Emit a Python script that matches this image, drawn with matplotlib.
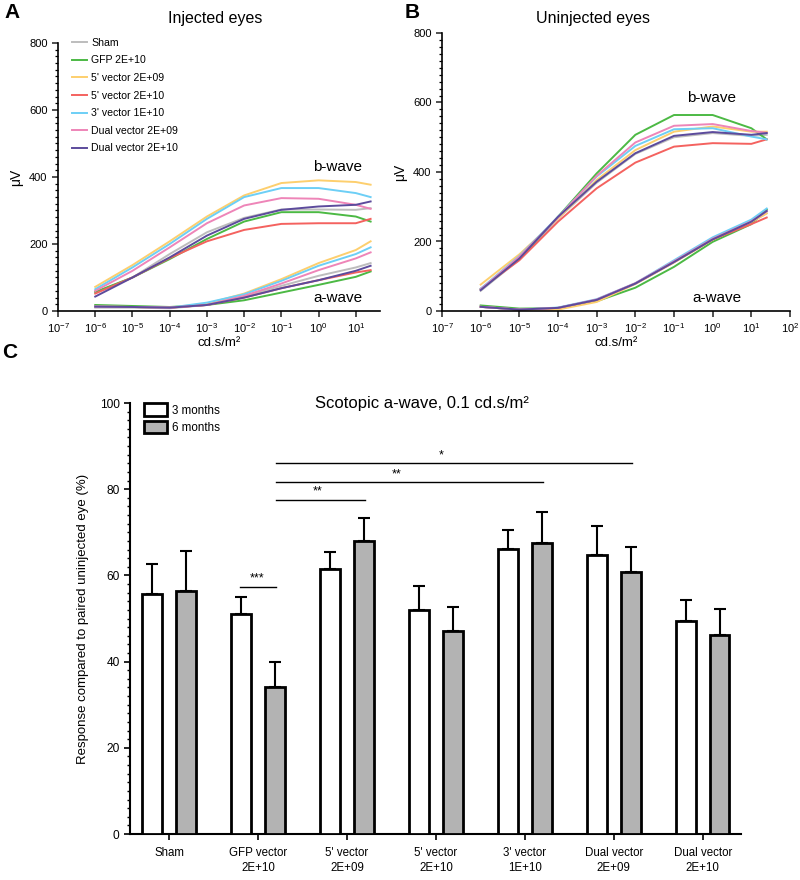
import numpy as np
import matplotlib
matplotlib.use("Agg")
import matplotlib.pyplot as plt
from matplotlib.ticker import MultipleLocator, FixedLocator
from matplotlib.patches import Patch

plt.rcParams['font.family'] = ['Liberation Sans', 'DejaVu Sans']
plt.rcParams['mathtext.default'] = 'regular'

# ── ERG intensity series (cd.s/m2) ─────────────────────────────────────────────
flash = [1e-6, 1e-5, 1e-4, 1e-3, 1e-2, 1e-1, 1e0, 1e1, 25]

groups = ["Sham", "GFP 2E+10", "5' vector 2E+09", "5' vector 2E+10",
          "3' vector 1E+10", "Dual vector 2E+09", "Dual vector 2E+10"]
colors = ['#bdbdbd', '#4cb944', '#fdcf6e', '#f4625f', '#6dcff6', '#ee85b8', '#5c4b9c']

# injected eyes, b-wave
inj_b_sham = [55, 100, 170, 235, 278, 303, 303, 302, 307]
inj_b_gfp = [57, 100, 155, 215, 267, 295, 295, 282, 267]
inj_b_5v09 = [72, 137, 208, 282, 345, 382, 390, 385, 377]
inj_b_5v10 = [52, 100, 158, 208, 242, 260, 262, 262, 275]
inj_b_3v10 = [65, 130, 200, 275, 340, 367, 367, 352, 340]
inj_b_dv09 = [60, 120, 190, 262, 315, 337, 335, 317, 305]
inj_b_dv10 = [43, 100, 160, 225, 275, 302, 312, 317, 327]

# injected eyes, a-wave
inj_a_sham = [10, 10, 8, 18, 45, 75, 105, 130, 143]
inj_a_gfp = [18, 15, 12, 18, 32, 55, 78, 102, 118]
inj_a_5v09 = [13, 12, 10, 22, 52, 95, 143, 182, 208]
inj_a_5v10 = [13, 12, 10, 18, 40, 68, 92, 115, 122]
inj_a_3v10 = [13, 12, 10, 25, 50, 90, 135, 170, 190]
inj_a_dv09 = [13, 12, 10, 18, 45, 82, 122, 157, 175]
inj_a_dv10 = [13, 12, 10, 18, 40, 68, 92, 120, 135]

# uninjected eyes, b-wave
uni_b_sham = [58, 148, 266, 369, 452, 500, 512, 504, 507]
uni_b_gfp = [62, 151, 271, 396, 507, 564, 564, 526, 494]
uni_b_5v09 = [76, 163, 266, 377, 463, 516, 531, 516, 516]
uni_b_5v10 = [64, 146, 257, 353, 427, 473, 483, 481, 494]
uni_b_3v10 = [64, 158, 271, 387, 475, 523, 526, 502, 494]
uni_b_dv09 = [62, 156, 269, 389, 485, 533, 538, 518, 513]
uni_b_dv10 = [60, 151, 271, 372, 454, 504, 515, 507, 512]

# uninjected eyes, a-wave
uni_a_sham = [12, 4, 9, 32, 78, 140, 205, 256, 281]
uni_a_gfp = [16, 7, 8, 28, 67, 127, 199, 250, 292]
uni_a_5v09 = [12, 4, 4, 26, 78, 140, 205, 256, 281]
uni_a_5v10 = [12, 4, 9, 32, 79, 141, 206, 250, 269]
uni_a_3v10 = [12, 4, 10, 34, 80, 146, 212, 263, 295]
uni_a_dv09 = [12, 4, 9, 33, 80, 143, 208, 258, 287]
uni_a_dv10 = [12, 4, 9, 32, 79, 141, 206, 257, 288]

inj_b = [inj_b_sham, inj_b_gfp, inj_b_5v09, inj_b_5v10, inj_b_3v10, inj_b_dv09, inj_b_dv10]
inj_a = [inj_a_sham, inj_a_gfp, inj_a_5v09, inj_a_5v10, inj_a_3v10, inj_a_dv09, inj_a_dv10]
uni_b = [uni_b_sham, uni_b_gfp, uni_b_5v09, uni_b_5v10, uni_b_3v10, uni_b_dv09, uni_b_dv10]
uni_a = [uni_a_sham, uni_a_gfp, uni_a_5v09, uni_a_5v10, uni_a_3v10, uni_a_dv09, uni_a_dv10]

# ── Panel C: scotopic a-wave ratio ────────────────────────────────────────────
bar_labels = ["Sham", "GFP vector\n2E+10", "5' vector\n2E+09", "5' vector\n2E+10",
              "3' vector\n1E+10", "Dual vector\n2E+09", "Dual vector\n2E+10"]
m3_mean = [55.8, 51.0, 61.5, 52.0, 66.2, 64.7, 49.5]
m3_err = [6.8, 4.1, 4.0, 5.5, 4.3, 6.8, 4.9]
m6_mean = [56.4, 34.2, 68.0, 47.0, 67.6, 60.7, 46.2]
m6_err = [9.3, 5.8, 5.4, 5.6, 7.0, 5.9, 5.9]

# (from, to, y, label, label x)
sig = [(0.8, 1.2, 57.4, '***', 0.99),
       (1.2, 2.2, 77.6, '**', 1.67),
       (1.2, 4.2, 81.6, '**', 2.56),
       (1.2, 5.2, 86.1, '*', 3.06)]

fig = plt.figure(figsize=(8, 8.8), dpi=100)


def px_axes(left, top, right, bottom):
    return fig.add_axes([left / 800, 1 - bottom / 880, (right - left) / 800, (bottom - top) / 880])


def style_curve_ax(ax, xmax, decades):
    ax.set_xscale('log')
    ax.set_xlim(1e-7, xmax)
    ax.set_ylim(0, 800)
    for s in ['top', 'right']:
        ax.spines[s].set_visible(False)
    for s in ['left', 'bottom']:
        ax.spines[s].set_linewidth(1.2)
    ax.xaxis.set_major_locator(FixedLocator([10.0 ** d for d in decades]))
    ax.xaxis.set_minor_locator(FixedLocator([]))
    ax.set_xticklabels([r'$10^{%d}$' % d for d in decades])
    ax.yaxis.set_major_locator(MultipleLocator(200))
    ax.yaxis.set_minor_locator(MultipleLocator(20))
    ax.tick_params(axis='both', which='major', labelsize=8, length=4, width=1.2, color='#333333')
    ax.tick_params(axis='y', which='minor', length=2, width=0.9)
    ax.set_xlabel('cd.s/m²', fontsize=9.5, labelpad=1)
    ax.set_ylabel('μV', fontsize=10, labelpad=4)


# ── Panel A ──
axA = px_axes(58, 43, 380, 311)
for b, a, c, name in zip(inj_b, inj_a, colors, groups):
    axA.plot(flash, b, color=c, lw=1.4, label=name)
    axA.plot(flash, a, color=c, lw=1.4)
style_curve_ax(axA, 10 ** 1.65, range(-7, 2))
axA.legend(loc='upper left', bbox_to_anchor=(0.03, 1.035), frameon=False, fontsize=7.6,
           handlelength=1.4, handletextpad=0.45, labelspacing=0.72, borderaxespad=0)
axA.text(10 ** -0.15, 430, 'b-wave', fontsize=11, va='center')
axA.text(10 ** -0.15, 39, 'a-wave', fontsize=11, va='center')
fig.text(215 / 800, 1 - 18 / 880, 'Injected eyes', fontsize=11.5, ha='center', va='center')
fig.text(12 / 800, 1 - 12 / 880, 'A', fontsize=15, fontweight='bold', ha='center', va='center')

# ── Panel B ──
axB = px_axes(442, 33, 790, 311)
for b, a, c in zip(uni_b, uni_a, colors):
    axB.plot(flash, b, color=c, lw=1.4)
    axB.plot(flash, a, color=c, lw=1.4)
style_curve_ax(axB, 1e2, range(-7, 3))
axB.text(10 ** -0.665, 613, 'b-wave', fontsize=11, va='center')
axB.text(10 ** -0.535, 37, 'a-wave', fontsize=11, va='center')
fig.text(593 / 800, 1 - 18 / 880, 'Uninjected eyes', fontsize=11.5, ha='center', va='center')
fig.text(412 / 800, 1 - 12 / 880, 'B', fontsize=15, fontweight='bold', ha='center', va='center')

# ── Panel C ──
axC = px_axes(130, 403, 741, 834)
x = np.arange(len(bar_labels))
w = 0.22
off = 0.19
axC.bar(x - off, m3_mean, w, color='white', edgecolor='black', linewidth=2, zorder=3)
axC.bar(x + off, m6_mean, w, color='#b3b3b3', edgecolor='black', linewidth=2, zorder=3)
axC.errorbar(x - off, m3_mean, yerr=[np.zeros(len(x)), m3_err], fmt='none', ecolor='black',
             elinewidth=1.5, capsize=4.5, capthick=1.5, zorder=2)
axC.errorbar(x + off, m6_mean, yerr=[np.zeros(len(x)), m6_err], fmt='none', ecolor='black',
             elinewidth=1.5, capsize=4.5, capthick=1.5, zorder=2)
for x0, x1, yy, lab, xt in sig:
    axC.plot([x0, x1], [yy, yy], color='black', lw=1.0)
    axC.text(xt, yy + 0.4, lab, fontsize=9, ha='center', va='bottom')

axC.set_xlim(-0.44, 6.43)
axC.set_ylim(0, 100)
for s in ['top', 'right']:
    axC.spines[s].set_visible(False)
for s in ['left', 'bottom']:
    axC.spines[s].set_linewidth(1.5)
axC.set_xticks(x)
axC.set_xticklabels(bar_labels, fontsize=8.3, linespacing=1.4)
axC.yaxis.set_major_locator(MultipleLocator(20))
axC.yaxis.set_minor_locator(MultipleLocator(2))
axC.tick_params(axis='both', which='major', labelsize=8.6, length=4, width=1.2)
axC.tick_params(axis='x', labelsize=8.3, pad=5)
axC.tick_params(axis='y', which='minor', length=2.5, width=1)
axC.set_ylabel('Response compared to paired uninjected eye (%)', fontsize=9.5, labelpad=8)
axC.text(2.84, 100, 'Scotopic a-wave, 0.1 cd.s/m²', fontsize=12, ha='center', va='center')
handles = [Patch(facecolor='white', edgecolor='black', linewidth=2, label='3 months'),
           Patch(facecolor='#b3b3b3', edgecolor='black', linewidth=2, label='6 months')]
axC.legend(handles=handles, loc='upper left', bbox_to_anchor=(0.015, 1.01), frameon=False,
           fontsize=8.4, handlelength=2.0, handleheight=1.3, handletextpad=0.4,
           labelspacing=0.35, borderaxespad=0)
fig.text(10 / 800, 1 - 352 / 880, 'C', fontsize=15, fontweight='bold', ha='center', va='center')

fig.savefig('out.png', dpi=100)
